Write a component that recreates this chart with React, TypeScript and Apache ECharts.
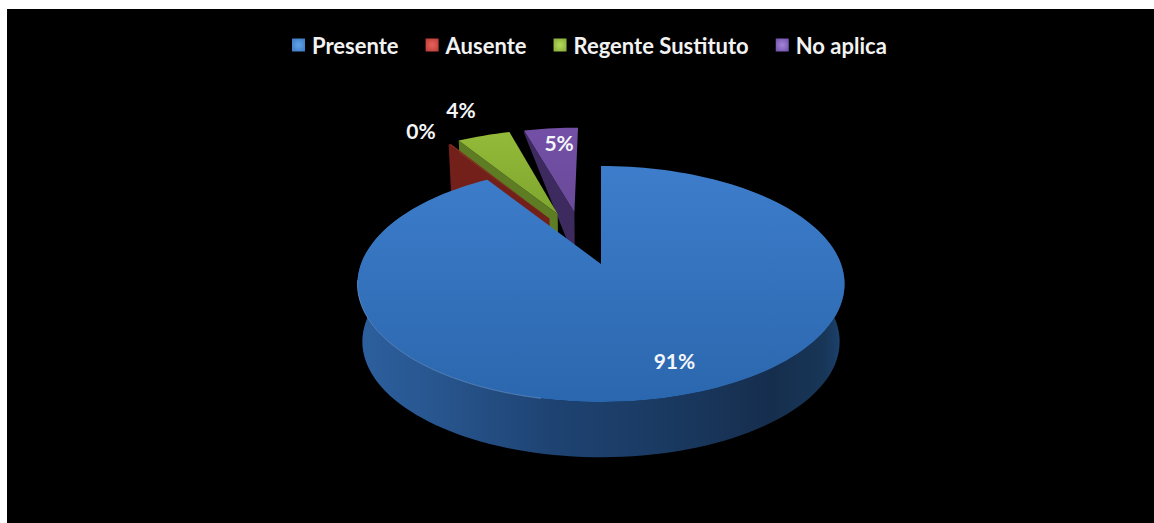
import React, { useEffect, useRef } from "react";
import * as echarts from "echarts";

const categories = ["Presente", "Ausente", "Regente Sustituto", "No aplica"];
const values = [90.9, 0.2, 4.4, 4.5];

// Appearance only (colours, layout, projection of the tilted disc)
const faceColors = [
  ["#3d7dcb", "#2b67ae"],
  ["#8a2a22", "#7a2018"],
  ["#93ba38", "#7fa62f"],
  ["#7350a6", "#6a4a9a"],
];
const wallColors = ["#1f4372", "#74201a", "#5d7c24", "#3d2a5e"];
const legendColors = [
  ["#63a4e6", "#3a78c2"],
  ["#e8625c", "#b83a36"],
  ["#b4dc5c", "#86aa36"],
  ["#a386d8", "#6e4ea8"],
];
const explode = [
  [0, 0],
  [-0.23, 0.425],
  [-0.195, 0.47],
  [-0.12, 0.49],
];
// how much of the wall shows at the rim and at the apex of each slice
const wallRim = [1, 1, 1, 0.05];
const wallApex = [1, 1, 1, 0.8];
const labelRadius = [0.78, 1.16, 1.2, 0.62];
const labelNudge = [
  [13, -2],
  [-15, -3],
  [-10, -13],
  [0, -15],
];

const OFF_X = 7;
const OFF_Y = 9;
const CX = 601 - OFF_X;
const CY = 264 - OFF_Y;
const A = 240;
const B = 114.6;
const P = 0.1695;
const BOTTOM_K = 0.98;
const BOTTOM_Y = 322 - OFF_Y;

function top(u: number, v: number): number[] {
  const s = 1 / (1 + P * v);
  return [CX + A * u * s, CY - B * v * s];
}
function bottom(u: number, v: number): number[] {
  const s = 1 / (1 + P * v);
  return [CX + A * BOTTOM_K * u * s, BOTTOM_Y - B * BOTTOM_K * v * s];
}
const toRad = (d: number) => (d * Math.PI) / 180;
const total = values.reduce((a, b) => a + b, 0);
const starts = values.map((_, i) => (values.slice(0, i).reduce((a, b) => a + b, 0) / total) * 360);

function renderSlice(i: number) {
  return (_params: any, api: any) => {
    const value = api.value(0);
    const a0 = starts[i];
    const a1 = a0 + (value / total) * 360;
    const [du, dv] = explode[i];
    const rim = (deg: number, r = 1): number[] => [du + r * Math.sin(toRad(deg)), dv + r * Math.cos(toRad(deg))];

    const steps = Math.max(4, Math.ceil((a1 - a0) / 2));
    const rimPts: number[][] = [];
    for (let k = 0; k <= steps; k++) rimPts.push(rim(a0 + ((a1 - a0) * k) / steps));

    const children: any[] = [];
    if (i === 0) {
      // round side of the big slice
      const visible = rimPts.filter((_, k) => {
        const d = a0 + ((a1 - a0) * k) / steps;
        return d > 30 && d < 315;
      });
      const side = visible.map((p) => top(p[0], p[1])).concat(visible.slice().reverse().map((p) => bottom(p[0], p[1])));
      children.push({
        type: "polygon",
        shape: { points: side },
        style: {
          fill: new echarts.graphic.LinearGradient(0, 0, 1, 0, [
            { offset: 0, color: "#2d609f" },
            { offset: 0.18, color: "#27548c" },
            { offset: 0.4, color: "#1e4372" },
            { offset: 0.62, color: "#1a3a62" },
            { offset: 0.85, color: "#162e4e" },
            { offset: 0.96, color: "#183657" },
            { offset: 1, color: "#1d4472" },
          ]),
        },
      });
    } else {
      // straight wall seen along the slice's left edge
      const apexTop = top(du, dv);
      const apexBot = bottom(du, dv);
      const mix = (a: number[], b: number[], t: number) => [a[0] + (b[0] - a[0]) * t, a[1] + (b[1] - a[1]) * t];
      const r0 = rimPts[0];
      const firstTop = top(r0[0], r0[1]);
      const firstBot = bottom(r0[0], r0[1]);
      children.push({
        type: "polygon",
        shape: {
          points: [firstTop, apexTop, mix(apexTop, apexBot, wallApex[i]), mix(firstTop, firstBot, wallRim[i])],
        },
        style: { fill: wallColors[i] },
      });
    }

    // top face
    const face = [top(du, dv)].concat(rimPts.map((p) => top(p[0], p[1])));
    children.push({
      type: "polygon",
      shape: { points: face },
      style: {
        fill: new echarts.graphic.LinearGradient(0, 0, 0, 1, [
          { offset: 0, color: faceColors[i][0] },
          { offset: 1, color: faceColors[i][1] },
        ]),
      },
    });

    if (i === 0) {
      const hl: number[][] = [];
      for (let d = 192; d <= 262; d += 2) {
        const p = rim(d);
        hl.push(top(p[0], p[1]));
      }
      children.push({
        type: "polyline",
        shape: { points: hl },
        style: { stroke: "#7aa5dc", lineWidth: 1, fill: "none", opacity: 0.55 },
      });
    }

    const mid = (a0 + a1) / 2;
    const lp = rim(mid, labelRadius[i]);
    const at = top(lp[0], lp[1]);
    children.push({
      type: "text",
      z2: 10,
      style: {
        text: `${Math.round(value)}%`,
        x: at[0] + labelNudge[i][0],
        y: at[1] + labelNudge[i][1],
        fill: "#f4f6fa",
        font: "bold 21px Lato, 'Open Sans', sans-serif",
        align: "center",
        verticalAlign: "middle",
      },
    });
    return { type: "group", children };
  };
}

export default function App() {
  const ref = useRef<HTMLDivElement>(null);
  useEffect(() => {
    const chart = echarts.init(ref.current!, undefined, { renderer: "svg" });
    chart.setOption({
      animation: false,
      backgroundColor: "#000000",
      legend: {
        left: 280,
        top: 20,
        itemWidth: 13,
        itemHeight: 13,
        itemGap: 27,
        icon: "rect",
        data: categories.map((name, i) => ({
          name,
          itemStyle: {
            color: new echarts.graphic.RadialGradient(0.5, 0.5, 0.7, [
              { offset: 0, color: legendColors[i][0] },
              { offset: 1, color: legendColors[i][1] },
            ]),
          },
        })),
        textStyle: {
          color: "#f2f2f2",
          fontFamily: "Lato, 'Open Sans', sans-serif",
          fontWeight: "bold",
          fontSize: 22,
          padding: [0, 0, 0, 2],
        },
      },
      series: categories.map((name, i) => ({
        type: "custom",
        name,
        coordinateSystem: "none",
        silent: true,
        z: 10 - i,
        itemStyle: { color: legendColors[i][1] },
        data: [[values[i]]],
        renderItem: renderSlice(i),
      })),
    });
    return () => chart.dispose();
  }, []);
  return (
    <div
      ref={ref}
      style={{ position: "fixed", left: OFF_X, top: OFF_Y, width: 1154 - OFF_X, height: 523 - OFF_Y }}
    />
  );
}
